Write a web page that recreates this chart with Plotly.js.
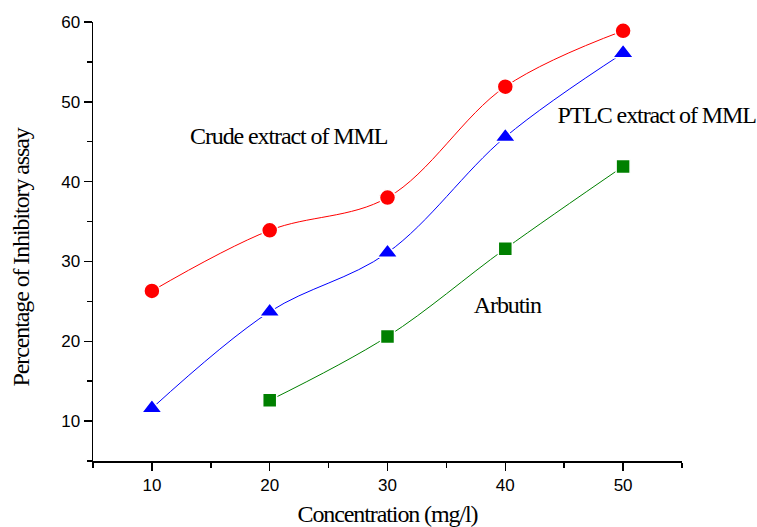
<!DOCTYPE html>
<html>
<head>
<meta charset="utf-8">
<script src="https://cdn.plot.ly/plotly-3.0.1.min.js"></script>
<style>
html,body{margin:0;padding:0;background:#fff;}
#chart{width:757px;height:527px;}
#chart text.xtitle, #chart text.annotation-text{letter-spacing:-1.1px;}
</style>
</head>
<body>
<div id="chart"></div>
<script>
var concentration = [10, 20, 30, 40, 50];
var crudeValues = [26.3, 33.9, 38.0, 51.9, 58.9];
var ptlcValues = [11.6, 23.7, 31.1, 45.6, 56.1];
var arbutinConc = [20, 30, 40, 50];
var arbutinValues = [12.6, 20.6, 31.6, 41.9];
var xTicks = [10, 20, 30, 40, 50];
var yTicks = [10, 20, 30, 40, 50, 60];

function series(x, y, color, symbol, size) {
  return {
    x: x, y: y, type: 'scatter', mode: 'lines+markers',
    line: {color: color, width: 1, shape: 'spline', smoothing: 1},
    marker: {color: color, symbol: symbol, size: size, line: {color: '#ffffff', width: 1.5}},
    showlegend: false, cliponaxis: false
  };
}

var data = [
  series(concentration, crudeValues, '#ff0000', 'circle', 16),
  series(concentration, ptlcValues, '#0000ff', 'triangle-up', 18),
  series(arbutinConc, arbutinValues, '#008000', 'square', 14)
];

var serif = 'Liberation Serif, Times New Roman, serif';
var sans = 'Liberation Sans, Arial, sans-serif';
var txtFont = {family: serif, size: 24, color: '#000'};

var layout = {
  width: 757, height: 527,
  margin: {l: 93, r: 75, t: 22, b: 66},
  paper_bgcolor: '#ffffff', plot_bgcolor: '#ffffff',
  xaxis: {
    range: [5, 55], tickvals: xTicks, ticks: 'outside', ticklen: 8, tickwidth: 1.5,
    tickcolor: '#000', showline: true, linecolor: '#000', linewidth: 1.5,
    showgrid: false, zeroline: false,
    minor: {dtick: 5, tick0: 5, ticks: 'outside', ticklen: 5, tickwidth: 1.5, tickcolor: '#000', showgrid: false},
    tickfont: {family: sans, size: 17, color: '#000'},
    title: {text: 'Concentration (mg/l)', font: txtFont, standoff: 15}
  },
  yaxis: {
    range: [5, 60], tickvals: yTicks, ticks: 'outside', ticklen: 8, tickwidth: 1.5,
    tickcolor: '#000', showline: true, linecolor: '#000', linewidth: 1.5,
    showgrid: false, zeroline: false,
    minor: {dtick: 5, tick0: 5, ticks: 'outside', ticklen: 5, tickwidth: 1.5, tickcolor: '#000', showgrid: false},
    tickfont: {family: sans, size: 17, color: '#000'}
  },
  annotations: [
    {x: 21, y: 258, text: 'Percentage of Inhibitory assay', textangle: -90, showarrow: false, font: txtFont},
    {x: 288, y: 136, text: 'Crude extract of MML', showarrow: false, font: txtFont},
    {x: 656, y: 115, text: 'PTLC extract of MML', showarrow: false, font: txtFont},
    {x: 507, y: 305, text: 'Arbutin', showarrow: false, font: txtFont}
  ]
};

// convert pixel-based annotation positions to paper coordinates
var plotW = 757 - 93 - 75, plotH = 527 - 22 - 66;
layout.annotations.forEach(function(a) {
  a.xref = 'paper'; a.yref = 'paper';
  a.xanchor = 'center'; a.yanchor = 'middle';
  a.x = (a.x - 93) / plotW;
  a.y = 1 - (a.y - 22) / plotH;
});

Plotly.newPlot('chart', data, layout, {displayModeBar: false, staticPlot: true});
</script>
</body>
</html>
